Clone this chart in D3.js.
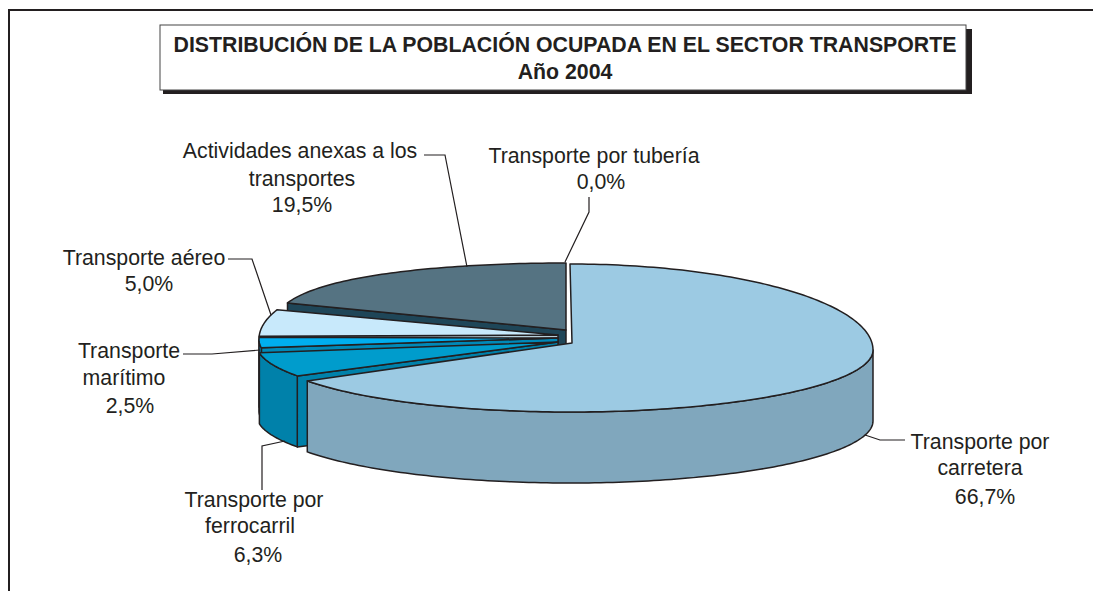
<!DOCTYPE html>
<html>
<head>
<meta charset="utf-8">
<script src="https://cdn.jsdelivr.net/npm/d3@7"></script>
<style>
  html, body { margin: 0; padding: 0; background: #fff; }
  svg { display: block; }
  text { font-family: "Liberation Sans", Arial, sans-serif; fill: #231f20; }
</style>
</head>
<body>
<div id="chart"></div>
<script>
var categories = ["Transporte por carretera", "Transporte por ferrocarril", "Transporte marítimo",
    "Transporte aéreo", "Actividades anexas a los transportes", "Transporte por tubería"];
var values = [66.7, 6.3, 2.5, 5.0, 19.5, 0.0];
var valueLabels = ["66,7%", "6,3%", "2,5%", "5,0%", "19,5%", "0,0%"];
var topColors = ["#9ccae3", "#009ccc", "#00aeef", "#c8e9fb", "#557382", "#557382"];
var sideColors = ["#80a7bd", "#0081aa", "#0089b8", "#b4cdd9", "#1f4658", "#1f4658"];
var titleLines = ["DISTRIBUCIÓN DE LA POBLACIÓN OCUPADA EN EL SECTOR TRANSPORTE", "Año 2004"];

var width = 1093, height = 591;
var ink = "#231f20";

var svg = d3.select("#chart").append("svg")
    .attr("width", width)
    .attr("height", height);

// frame, only top and left are visible
svg.append("path")
    .attr("d", "M9,591V10H1093")
    .attr("fill", "none")
    .attr("stroke", ink)
    .attr("stroke-width", 2);

// title box with its shadow
svg.append("rect").attr("x", 163).attr("y", 29).attr("width", 809).attr("height", 65).attr("fill", ink);
svg.append("rect").attr("x", 160).attr("y", 25).attr("width", 806).attr("height", 65)
    .attr("fill", "#fff").attr("stroke", "#444").attr("stroke-width", 1);
svg.selectAll(".title").data(titleLines).enter().append("text")
    .attr("class", "title")
    .attr("x", 565)
    .attr("y", function(d, i) { return 52 + i * 27; })
    .attr("text-anchor", "middle")
    .attr("font-size", 21.3)
    .attr("font-weight", "bold")
    .text(function(d) { return d; });

// pie geometry. the rim is an egg: the back half is stretched more than the front
var cx = 570, cy = 350, rx = 303, ryBack = 86, ryFront = 62, depth = 71;

var pie = d3.pie().sort(null).value(function(d) { return d; });
var arcs = pie(values);

// how far each slice is pulled out: rim shift, apex shift, radius, back curve power
var explode = [
    { dx: 0, dy: 0, ax: 2, ay: -7, r: rx, e: 1 },
    { dx: -10, dy: -5, ax: -12, ay: -8, r: rx, e: 1 },
    { dx: -8, dy: -10, ax: -12, ay: -12, r: rx, e: 1 },
    { dx: -8, dy: -11, ax: -12, ay: -15, r: rx, e: 1 },
    { dx: -4, dy: -1, ax: -4, ay: -20, r: 296, e: 0.576 },
    { dx: -4, dy: -1, ax: -4, ay: -20, r: 296, e: 1 }
];

function rim(t, ex) {
    var c = Math.cos(t);
    var y = c > 0 ? -ryBack * Math.pow(c, ex.e) : ryFront * -c;
    return [cx + ex.dx + ex.r * Math.sin(t), cy + ex.dy + y];
}

function apex(ex) {
    return [cx + ex.ax, cy + ex.ay];
}

function rimPoints(t0, t1, ex) {
    var n = Math.max(2, Math.ceil(Math.abs(t1 - t0) / 0.02));
    return d3.range(n + 1).map(function(i) {
        return rim(t0 + (t1 - t0) * i / n, ex);
    });
}

function down(p) {
    return [p[0], p[1] + depth];
}

var line = d3.line().curve(d3.curveLinear);
var pieG = svg.append("g")
    .attr("stroke", ink)
    .attr("stroke-width", 1.5)
    .attr("stroke-linejoin", "round");

function shape(pts, fill) {
    pieG.append("path").attr("d", line(pts) + "Z").attr("fill", fill);
}

// back to front: actividades, aereo, maritimo, ferrocarril, carretera
[5, 4, 3, 2, 1, 0].forEach(function(i) {
    var a = arcs[i], ex = explode[i];
    if (a.value === 0) return;
    var tip = apex(ex);

    // cut face along the lower edge of the slice
    if (i !== 0) {
        var start = rim(a.startAngle, ex);
        shape([start, tip, down(tip), down(start)], sideColors[i]);
    }

    // outer wall, only the part of the rim that faces the viewer
    var t0 = Math.max(a.startAngle, Math.PI / 2);
    var t1 = Math.min(a.endAngle, Math.PI * 1.5);
    if (t1 > t0) {
        var front = rimPoints(t0, t1, ex);
        shape(front.concat(front.map(down).reverse()), sideColors[i]);
    }

    // top
    shape(rimPoints(a.startAngle, a.endAngle, ex).concat([tip]), topColors[i]);
});

// leader lines
var leaders = [
    [[865, 435], [880, 440], [905, 440]],
    [[262, 490], [262, 446], [285, 441]],
    [[183, 354], [212, 354], [260, 350]],
    [[228, 259], [252, 259], [271, 315]],
    [[424, 155], [445, 155], [467, 267]],
    [[589, 197], [589, 212], [565, 262]]
];
svg.selectAll(".leader").data(leaders).enter().append("path")
    .attr("class", "leader")
    .attr("d", function(d) { return line(d); })
    .attr("fill", "none")
    .attr("stroke", ink)
    .attr("stroke-width", 1.2);

// labels, wrapped as in the original
var labelLines = [
    ["Transporte por", "carretera"],
    ["Transporte por", "ferrocarril"],
    ["Transporte", "marítimo"],
    ["Transporte aéreo"],
    ["Actividades anexas a los", "transportes"],
    ["Transporte por tubería"]
];
var labelPos = [
    { x: [980, 980, 985], y: [449, 475, 504] },
    { x: [254, 250, 258], y: [507, 533, 562] },
    { x: [129, 124, 130], y: [358, 385, 413] },
    { x: [144, 149], y: [265, 291] },
    { x: [300, 302, 302], y: [158, 186, 212] },
    { x: [594, 601], y: [163, 189] }
];
categories.forEach(function(c, i) {
    var rows = labelLines[i].concat([valueLabels[i]]);
    svg.append("g").selectAll("text").data(rows).enter().append("text")
        .attr("x", function(d, j) { return labelPos[i].x[j]; })
        .attr("y", function(d, j) { return labelPos[i].y[j]; })
        .attr("text-anchor", "middle")
        .attr("font-size", 21.3)
        .text(function(d) { return d; });
});
</script>
</body>
</html>
